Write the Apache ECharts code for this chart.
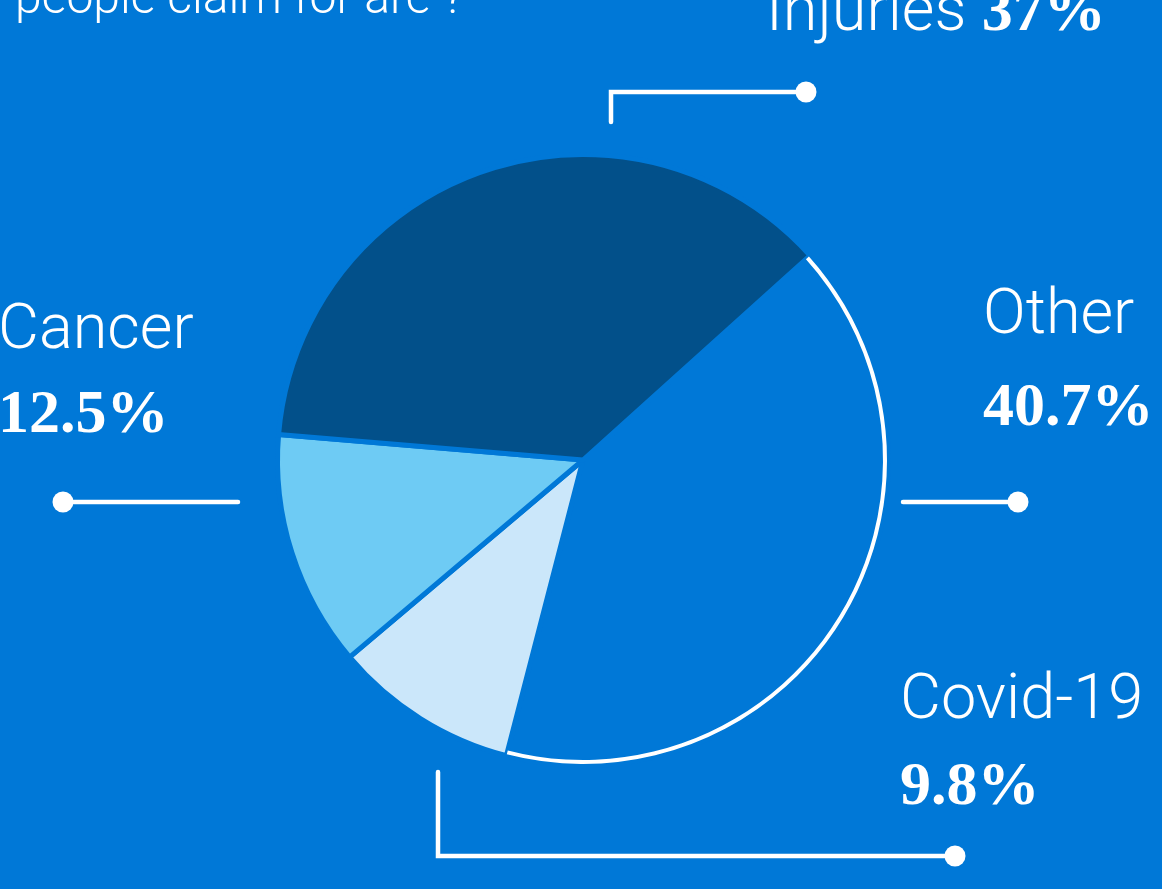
<!DOCTYPE html>
<html>
<head>
<meta charset="utf-8">
<script src="https://cdn.jsdelivr.net/npm/echarts@6/dist/echarts.min.js"></script>
<style>
  html, body { margin: 0; padding: 0; background: #0078D7; }
  #chart { width: 1162px; height: 889px; }
</style>
</head>
<body>
<div id="chart"></div>
<script>
// Share of claims by condition (percent)
const categories = ['Other', 'Covid-19', 'Cancer', 'Injuries'];
const shares = [40.7, 9.8, 12.5, 37];
const sliceColors = ['#0078D7', '#CBE7FA', '#6ECBF4', '#02508A'];
const headline = 'people claim for are ?';

const BG = '#0078D7';
const CENTER = [583, 460];

// Where each category's caption block sits, and the gap between its two lines
const captionSpots = {
  'Other':    { x: 983, y: 271, gap: 92 },
  'Covid-19': { x: 900, y: 659, gap: 86 },
  'Cancer':   { x: -2,  y: 290, gap: 84 },
  'Injuries': { x: 766, y: -29, gap: 86, inline: true }
};

// Leader lines beside the pie, ending in a dot
const leaders = {
  'Other':    [[903, 502], [1018, 502]],
  'Covid-19': [[438, 772], [438, 856], [955, 856]],
  'Cancer':   [[238, 502], [63, 502]],
  'Injuries': [[611, 122], [611, 92], [806, 92]]
};

const chart = echarts.init(document.getElementById('chart'), null, { renderer: 'canvas' });

const graphics = [];

graphics.push({
  type: 'text',
  x: 15, y: 1,
  silent: true,
  style: {
    text: headline,
    fill: '#fff',
    font: '300 48px Roboto',
    align: 'left',
    verticalAlign: 'middle'
  }
});

categories.forEach((name, i) => {
  const spot = captionSpots[name];
  const pct = shares[i] + '%';
  const text = spot.inline ? '{n|' + name + '\u00a0}{v|' + pct + '}' : '{n|' + name + '}\n{v|' + pct + '}';
  graphics.push({
    type: 'text',
    x: spot.x, y: spot.y,
    silent: true,
    style: {
      text: text,
      align: 'left',
      verticalAlign: 'top',
      rich: {
        n: { fill: '#fff', fontFamily: 'Roboto', fontWeight: 300, fontSize: 63, lineHeight: spot.gap },
        v: { fill: '#fff', fontFamily: 'Liberation Serif', fontWeight: 'bold', fontSize: 62, lineHeight: spot.gap }
      }
    }
  });

  const pts = leaders[name];
  graphics.push({
    type: 'polyline',
    silent: true,
    shape: { points: pts },
    style: { stroke: '#fff', lineWidth: 4.5, fill: null, lineCap: 'round', lineJoin: 'miter' }
  });
  const end = pts[pts.length - 1];
  graphics.push({
    type: 'circle',
    silent: true,
    shape: { cx: end[0], cy: end[1], r: 10.5 },
    style: { fill: '#fff' }
  });
});

chart.setOption({
  backgroundColor: BG,
  animation: false,
  graphic: graphics,
  series: [
    {
      type: 'pie',
      center: CENTER,
      radius: 305.5,
      startAngle: 42,
      clockwise: true,
      silent: true,
      avoidLabelOverlap: false,
      label: { show: false },
      labelLine: { show: false },
      itemStyle: { borderColor: BG, borderWidth: 5 },
      data: categories.map((c, i) => ({ name: c, value: shares[i], itemStyle: { color: sliceColors[i] } }))
    },
    {
      // white rim that outlines the "Other" slice
      type: 'pie',
      center: CENTER,
      radius: [300, 304],
      startAngle: 42,
      clockwise: true,
      silent: true,
      label: { show: false },
      labelLine: { show: false },
      itemStyle: { borderWidth: 0 },
      data: categories.map((c, i) => ({
        name: c, value: shares[i],
        itemStyle: { color: c === 'Other' ? '#ffffff' : 'rgba(0,0,0,0)' }
      }))
    }
  ]
});
</script>
</body>
</html>
